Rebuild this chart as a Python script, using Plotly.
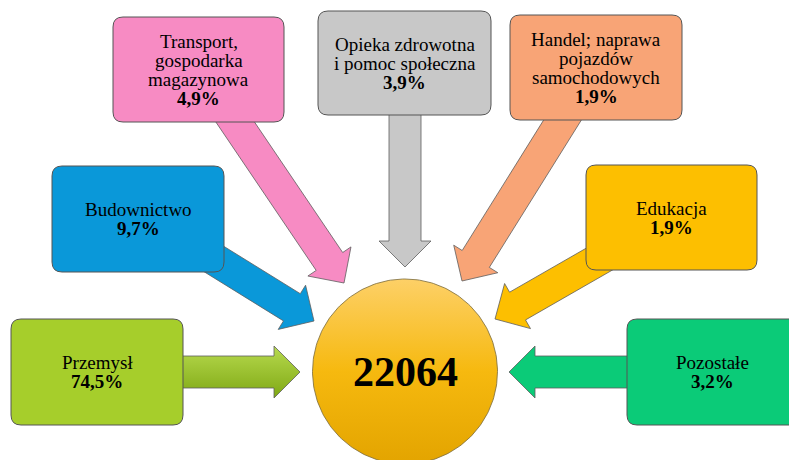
import numpy as np
import plotly.graph_objects as go

# ---------------- data ----------------
categories = [
    "Przemysł",
    "Budownictwo",
    "Transport,<br>gospodarka<br>magazynowa",
    "Opieka zdrowotna<br>i pomoc społeczna",
    "Handel; naprawa<br>pojazdów<br>samochodowych",
    "Edukacja",
    "Pozostałe",
]
shares = [74.5, 9.7, 4.9, 3.9, 1.9, 1.9, 3.2]
total = 22064

# ---------------- layout (pixel space) ----------------
W, H = 789, 460
box_colors = ["#A6CE2B", "#0A98D9", "#F78BC3", "#C8C8C8", "#F8A476", "#FDBF00", "#0BCB78"]
# box rectangles: x0, y0, x1, y1
boxes = [
    (11, 319, 183, 425),
    (52, 166, 224, 272),
    (113, 17, 284, 122),
    (318, 11, 491, 115),
    (510, 15, 682, 120),
    (586, 165, 757, 270),
    (627, 319, 800, 425),
]
# arrows: tail -> tip
arrows = [
    ((100, 372), (300, 372)),
    ((180, 238), (314, 321)),
    ((200, 70), (344, 283)),
    ((405, 60), (405, 267)),
    ((590, 76), (462, 281)),
    ((650, 230), (495, 319)),
    ((700, 372), (509, 372)),
]
SHAFT, HEADW, HEADL = 32, 52, 26


def arrow_poly(tail, tip):
    t = np.array(tail, float)
    p = np.array(tip, float)
    d = p - t
    u = d / np.linalg.norm(d)
    n = np.array([-u[1], u[0]])
    b = p - u * HEADL
    pts = [
        t + n * SHAFT / 2,
        b + n * SHAFT / 2,
        b + n * HEADW / 2,
        p,
        b - n * HEADW / 2,
        b - n * SHAFT / 2,
        t - n * SHAFT / 2,
        t + n * SHAFT / 2,
    ]
    return [q[0] for q in pts], [q[1] for q in pts]


def rounded_rect(x0, y0, x1, y1, r=10):
    return (
        f"M{x0+r},{y0} L{x1-r},{y0} Q{x1},{y0} {x1},{y0+r} "
        f"L{x1},{y1-r} Q{x1},{y1} {x1-r},{y1} "
        f"L{x0+r},{y1} Q{x0},{y1} {x0},{y1-r} "
        f"L{x0},{y0+r} Q{x0},{y0} {x0+r},{y0} Z"
    )


fig = go.Figure()

# arrows
for i, (tail, tip) in enumerate(arrows):
    xs, ys = arrow_poly(tail, tip)
    kw = dict(fillcolor=box_colors[i])
    if i == 0:
        kw = dict(
            fillgradient=dict(
                type="vertical",
                colorscale=[[0, "#B7DA4E"], [1, "#7FA814"]],
                start=346,
                stop=398,
            )
        )
    fig.add_trace(
        go.Scatter(
            x=xs, y=ys, mode="lines", fill="toself",
            line=dict(color="#5E5E5E", width=0.8),
            hoverinfo="skip", showlegend=False, **kw,
        )
    )

# central circle
cx, cy, R = 405, 371.5, 92.5
th = np.linspace(0, 2 * np.pi, 241)
fig.add_trace(
    go.Scatter(
        x=cx + R * np.cos(th), y=cy + R * np.sin(th), mode="lines", fill="toself",
        fillgradient=dict(
            type="vertical",
            colorscale=[[0, "#FDD067"], [0.5, "#F6B90F"], [1, "#E3A400"]],
            start=cy - R, stop=cy + R,
        ),
        line=dict(color="#7A6A3A", width=0.8),
        hoverinfo="skip", showlegend=False,
    )
)

# boxes
for (x0, y0, x1, y1), col in zip(boxes, box_colors):
    fig.add_shape(
        type="path", path=rounded_rect(x0, y0, x1, y1), xref="x", yref="y",
        fillcolor=col, line=dict(color="#555555", width=1), layer="above",
    )

FONT = "Liberation Serif"
LH = 19
for (x0, y0, x1, y1), name, val in zip(boxes, categories, shares):
    lines = name.split("<br>") + [f"<b>{val:.1f}%</b>".replace(".", ",")]
    xc = (x0 + x1) / 2 if x1 <= W else 712
    yc = (y0 + y1) / 2
    n = len(lines)
    for k, ln in enumerate(lines):
        yk = yc + (k - (n - 1) / 2) * LH
        fig.add_annotation(
            x=xc, y=yk, text=ln, showarrow=False, xanchor="center", yanchor="middle",
            font=dict(family=FONT, size=19, color="black"),
        )

fig.add_annotation(
    x=cx, y=cy, text=f"<b>{total}</b>", showarrow=False, xanchor="center", yanchor="middle",
    font=dict(family=FONT, size=42, color="black"),
)

fig.update_layout(
    width=W, height=H, margin=dict(l=0, r=0, t=0, b=0),
    paper_bgcolor="white", plot_bgcolor="white",
    xaxis=dict(range=[0, W], visible=False, fixedrange=True),
    yaxis=dict(range=[H, 0], visible=False, fixedrange=True),
)
fig.write_html(
    "out.html",
    config={"displayModeBar": False},
    post_script="document.body.style.margin='0';document.body.style.overflow='hidden';",
)
